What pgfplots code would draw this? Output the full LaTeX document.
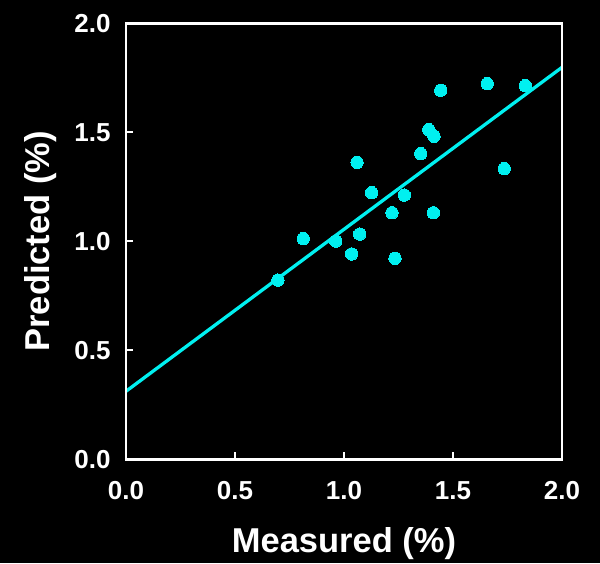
\documentclass[border=0pt]{standalone}
\usepackage{pgfplots}
\pgfplotsset{compat=1.18}
\usepackage{fontspec}
\setmainfont{Liberation Sans}
\definecolor{cy}{RGB}{0,240,240}
\begin{document}
\begin{tikzpicture}
\fill[black] (-126pt,-103.7pt) rectangle (474pt,459.3pt);
\begin{axis}[
  at={(0,0)}, anchor=south west,
  scale only axis, width=436pt, height=436pt,
  xmin=0, xmax=2, ymin=0, ymax=2,
  xtick={0,0.5,1,1.5,2}, ytick={0,0.5,1,1.5,2},
  axis line style={white, line width=2.6pt},
  tick style={draw=white, line width=2pt},
  major tick style={draw=white, line width=2pt},
  major tick length=7pt,
  tick align=inside,
  xtick pos=left, ytick pos=left,
  axis on top,
  /pgf/number format/assume math mode=true,
  /pgf/number format/.cd, fixed, fixed zerofill, precision=1, /pgfplots/.cd,
  ticklabel style={white, font=\fontsize{26}{28}\selectfont\bfseries},
  xticklabel style={yshift=-19pt},
  yticklabel style={xshift=-12pt},
  xlabel={Measured (\%)}, ylabel={Predicted (\%)},
  label style={white, font=\fontsize{34.5}{38}\selectfont\bfseries},
  xlabel style={at={(axis description cs:0.5,-0.193)}, anchor=center},
  ylabel style={at={(axis description cs:-0.197,0.5)}, anchor=center},
  clip=false,
]
\addplot[cy, line width=3.3pt] coordinates {(0,0.312) (2,1.798)};
\addplot[only marks, mark=*, mark size=6.2pt, mark options={fill=cy, draw=cy, line width=0pt}] coordinates {
(0.697,0.822) (0.813,1.012) (0.962,1.001) (1.035,0.942) (1.072,1.033)
(1.060,1.362) (1.127,1.223) (1.220,1.131) (1.234,0.922) (1.277,1.212)
(1.352,1.402) (1.389,1.512) (1.413,1.482) (1.410,1.131) (1.444,1.693)
(1.657,1.723) (1.735,1.333) (1.832,1.714)
};
\end{axis}
\end{tikzpicture}
\end{document}
